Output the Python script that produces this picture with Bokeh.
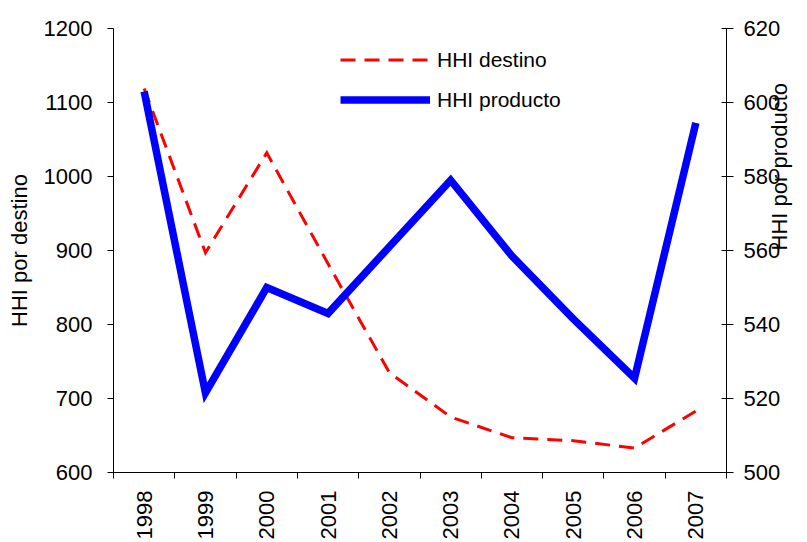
import math
from bokeh.plotting import figure
from bokeh.models import Range1d, LinearAxis, FixedTicker, Legend, LegendItem, ColumnDataSource
from bokeh.embed import file_html
from bokeh.resources import INLINE

years = ["1998", "1999", "2000", "2001", "2002", "2003", "2004", "2005", "2006", "2007"]
hhi_destino = [1119, 897, 1032, 882, 735, 675, 647, 643, 633, 683]
hhi_producto = [603, 521.5, 550, 543, 561, 579, 558.5, 541.5, 525.5, 594.5]
left_ticks = [600, 700, 800, 900, 1000, 1100, 1200]
right_ticks = [500, 520, 540, 560, 580, 600, 620]

FONT = "Liberation Sans"

centers = [i + 0.5 for i in range(len(years))]
bounds = list(range(len(years) + 1))

src = ColumnDataSource(dict(x=centers, dest=hhi_destino, prod=hhi_producto))

p = figure(width=807, height=542, output_backend="svg", toolbar_location=None,
           x_range=Range1d(0, len(years)), y_range=Range1d(left_ticks[0], left_ticks[-1]),
           x_axis_type=None, y_axis_type=None,
           min_border_left=113, min_border_right=81, min_border_top=28, min_border_bottom=67)
p.extra_y_ranges = {"r": Range1d(right_ticks[0], right_ticks[-1])}
p.outline_line_color = None
p.xgrid.visible = False
p.ygrid.visible = False
p.background_fill_color = "white"
p.border_fill_color = "white"

r1 = p.line("x", "dest", source=src, line_color="#FF0000", line_width=3,
            line_dash="15 9", line_join="miter")
r2 = p.line("x", "prod", source=src, line_color="#0000FF", line_width=7.5,
            line_join="miter", y_range_name="r")

xaxis = LinearAxis(ticker=FixedTicker(ticks=centers, minor_ticks=bounds),
                   major_label_overrides={c: y for c, y in zip(centers, years)},
                   major_tick_in=0, major_tick_out=0, minor_tick_in=0, minor_tick_out=6,
                   major_label_orientation=math.pi / 2, major_label_standoff=12,
                   major_label_text_font=FONT, major_label_text_font_size="22px",
                   major_label_text_color="black", axis_line_color="black",
                   major_tick_line_color="black", minor_tick_line_color="black")
p.add_layout(xaxis, "below")

laxis = LinearAxis(ticker=FixedTicker(ticks=left_ticks, minor_ticks=[]),
                   major_tick_in=0, major_tick_out=6, minor_tick_in=0, minor_tick_out=0,
                   major_label_standoff=15,
                   major_label_text_font=FONT, major_label_text_font_size="22px",
                   major_label_text_color="black",
                   axis_label="HHI por destino", axis_label_standoff=9,
                   axis_label_text_font=FONT, axis_label_text_font_size="22px",
                   axis_label_text_font_style="normal", axis_label_text_color="black",
                   axis_line_color="black", major_tick_line_color="black")
p.add_layout(laxis, "left")

raxis = LinearAxis(y_range_name="r", ticker=FixedTicker(ticks=right_ticks, minor_ticks=[]),
                   major_tick_in=5, major_tick_out=7, minor_tick_in=0, minor_tick_out=0,
                   major_label_standoff=10,
                   major_label_text_font=FONT, major_label_text_font_size="22px",
                   major_label_text_color="black",
                   axis_label="HHI por producto", axis_label_standoff=-4,
                   axis_label_orientation=math.pi / 2,
                   axis_label_text_font=FONT, axis_label_text_font_size="22px",
                   axis_label_text_font_style="normal", axis_label_text_color="black",
                   axis_line_color="black", major_tick_line_color="black")
p.add_layout(raxis, "right")

legend = Legend(items=[LegendItem(label="HHI destino", renderers=[r1]),
                       LegendItem(label="HHI producto", renderers=[r2])],
                location=(227, 360), glyph_width=90, glyph_height=25, label_height=25,
                spacing=15, padding=0, margin=0, label_standoff=7,
                border_line_color=None, background_fill_alpha=0,
                label_text_font=FONT, label_text_font_size="21px",
                label_text_color="black")
p.add_layout(legend)

open("out.html", "w").write(file_html(p, INLINE))
